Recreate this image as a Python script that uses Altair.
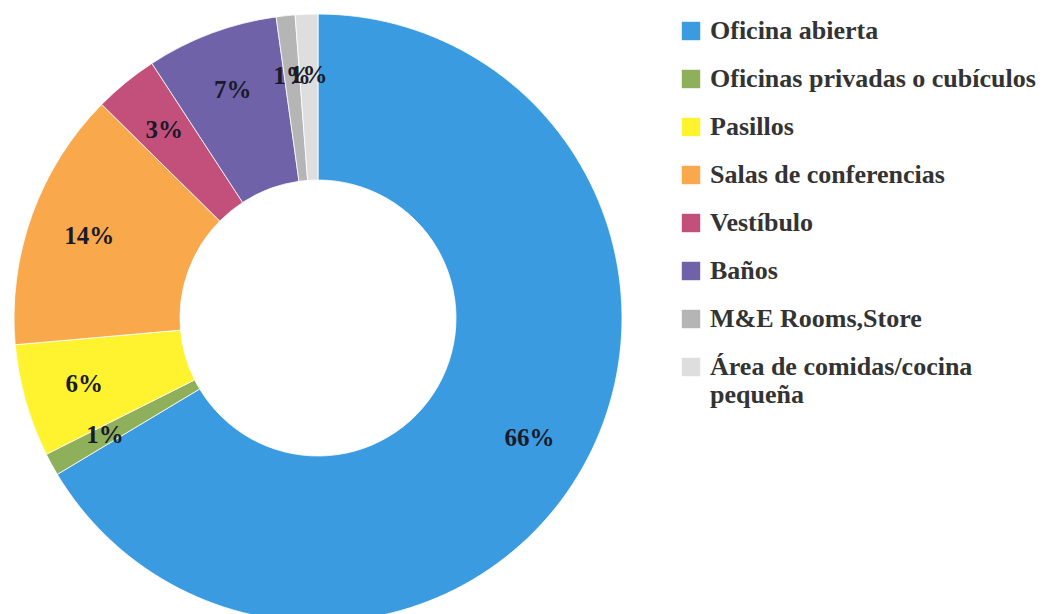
import altair as alt
import pandas as pd

categories = [
    "Oficina abierta",
    "Oficinas privadas o cubículos",
    "Pasillos",
    "Salas de conferencias",
    "Vestíbulo",
    "Baños",
    "M&E Rooms,Store",
    "Área de comidas/cocina pequeña",
]
values = [66.4, 1.2, 6.0, 13.8, 3.4, 7.0, 1.0, 1.2]
labels = ["66%", "1%", "6%", "14%", "3%", "7%", "1%", "1%"]
colors = ["#3a9be0", "#8fb05a", "#fff22e", "#f9a94b", "#c2507a", "#6f62a8", "#b5b5b5", "#dedede"]

df = pd.DataFrame({
    "cat": categories,
    "val": values,
    "lab": labels,
    "idx": list(range(len(categories))),
})

base = alt.Chart(df).encode(
    theta=alt.Theta("val:Q", stack=True),
    order=alt.Order("idx:Q"),
)

arcs = base.mark_arc(outerRadius=304, innerRadius=138, stroke="white", strokeWidth=0.8).encode(
    color=alt.Color(
        "cat:N",
        sort=categories,
        scale=alt.Scale(domain=categories, range=colors),
        legend=alt.Legend(
            title=None,
            orient="none",
            legendX=670,
            legendY=10,
            symbolType="square",
            symbolSize=340,
            symbolStrokeWidth=0,
            labelFont="Liberation Serif",
            labelFontWeight="bold",
            labelFontSize=26,
            labelColor="#333333",
            labelLimit=420,
            rowPadding=22,
            labelOffset=6,
            labelExpr="datum.label == 'Área de comidas/cocina pequeña' ? ['Área de comidas/cocina', 'pequeña'] : datum.label",
        ),
    )
)

texts = base.mark_text(
    radius=243,
    font="Liberation Serif",
    fontWeight="bold",
    fontSize=25,
    color="#1a1a2a",
).encode(text="lab:N")

chart = (arcs + texts).properties(
    width=620,
    height=620,
    padding=0,
).configure_view(stroke=None)

chart.save("out.html", embed_options={"renderer": "svg", "actions": False})
